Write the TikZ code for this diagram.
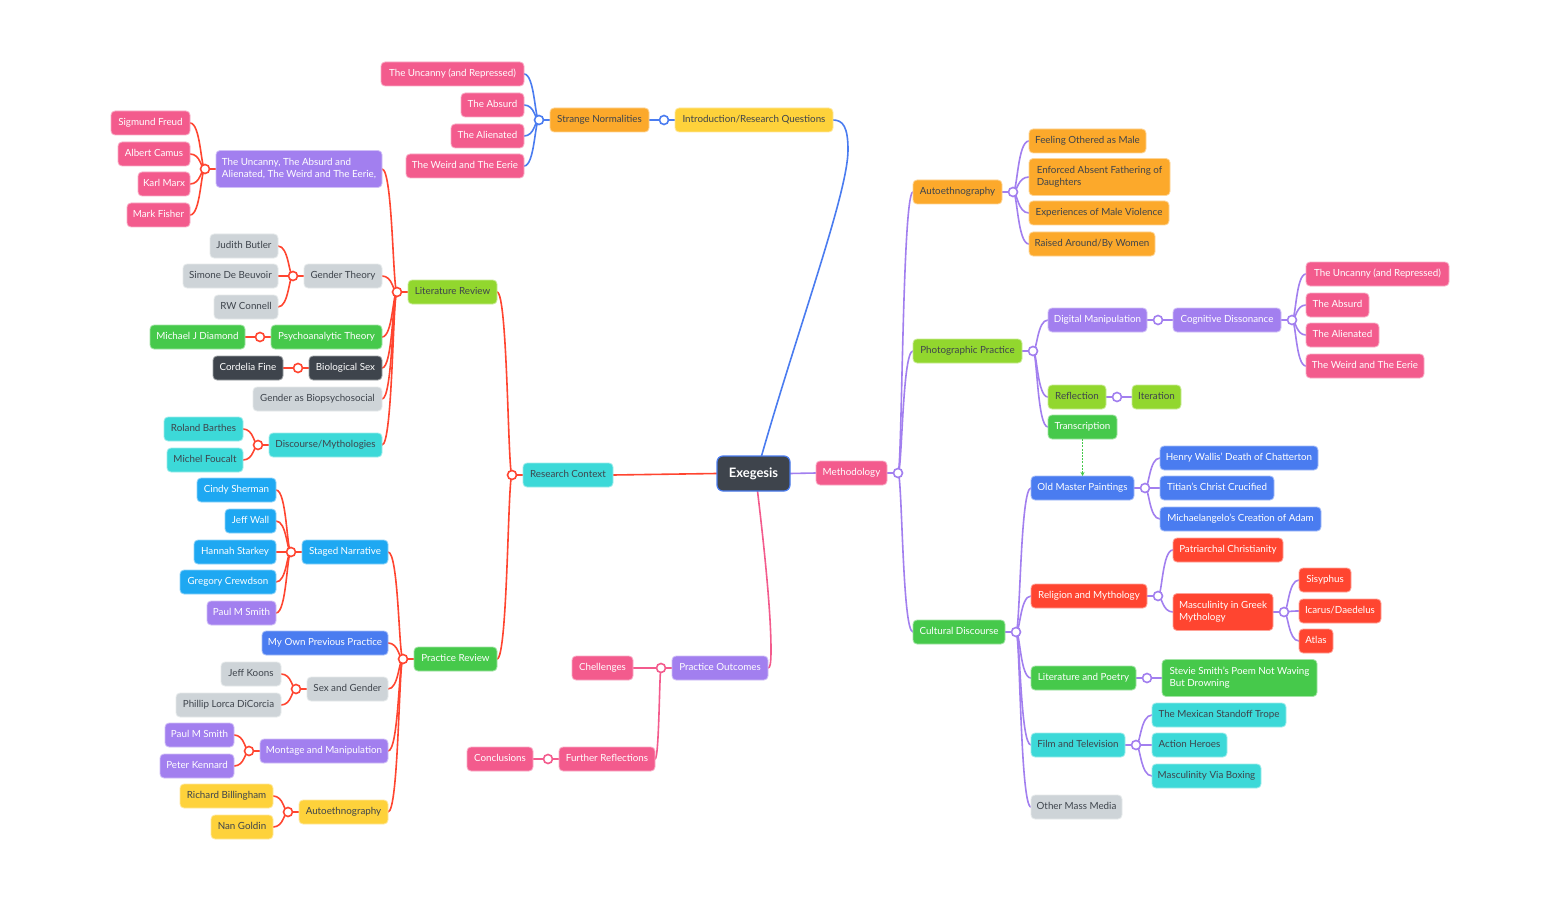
\documentclass[tikz,border=0pt]{standalone}
\usepackage{fontspec}
\setmainfont{Lato}
\usetikzlibrary{calc,arrows.meta}
\definecolor{cpink}{HTML}{F35B8D}
\definecolor{cpurple}{HTML}{A27FEF}
\definecolor{cblue}{HTML}{4A7CF0}
\definecolor{csky}{HTML}{1EA8F2}
\definecolor{cred}{HTML}{FF4530}
\definecolor{cgreen}{HTML}{46C94B}
\definecolor{clgreen}{HTML}{92D72E}
\definecolor{cyellow}{HTML}{FED23B}
\definecolor{corange}{HTML}{FCA92B}
\definecolor{ccyan}{HTML}{3CD9D8}
\definecolor{cgray}{HTML}{CED4D8}
\definecolor{cdark}{HTML}{3E444C}
\pgfdeclarelayer{back}
\pgfdeclarelayer{bg}
\pgfsetlayers{back,bg,main}
\newcommand\nb[6]{\node[box,#2,minimum width={#4-#3},anchor=west] (#1) at (#3,#5) {#6};}
\newcommand\hubL[3]{\node[hub=#2] (#1) at ($(#3.west)+(-11,0)$) {};}
\newcommand\hubR[3]{\node[hub=#2] (#1) at ($(#3.east)+(11,0)$) {};}
\newcommand\mlink[3]{\draw[link,#1] let \p1=(#2.center), \p2=(#3), \n1={\x1+0.28*(\x2-\x1)} in (\p1) .. controls (\n1,\y1) and (\n1,\y2) .. (\p2);}
\newcommand\slink[3]{\draw[link,#1] (#2) -- (#3.center);}
\begin{document}
\begin{tikzpicture}[x=1pt,y=-1pt,
  box/.style={rectangle, rounded corners=4pt, inner xsep=5pt, inner ysep=0pt, outer sep=0pt,
    minimum height=24pt, line width=0.8pt, font=\fontsize{9.8}{12}\selectfont, align=left,
    text height=7.2pt, text depth=2pt},
  two/.style={minimum height=37pt, text height={}, text depth={}},
  hub/.style={circle, draw=#1, fill=white, line width=1.6pt, minimum size=9pt, inner sep=0pt, outer sep=0pt},
  link/.style={line width=1.6pt, line cap=round},
  npk/.style={fill=cpink, draw=cpink!50!white, text=white},
  npu/.style={fill=cpurple, draw=cpurple!50!white, text=white},
  nbl/.style={fill=cblue, draw=cblue!50!white, text=white},
  nsk/.style={fill=csky, draw=csky!50!white, text=white},
  nrd/.style={fill=cred, draw=cred!50!white, text=white},
  ngn/.style={fill=cgreen, draw=cgreen!50!white, text=white},
  ndk/.style={fill=cdark, draw=cdark!50!white, text=white},
  nlg/.style={fill=clgreen, draw=clgreen!50!white, text=cdark},
  nye/.style={fill=cyellow, draw=cyellow!50!white, text=cdark},
  nor/.style={fill=corange, draw=corange!50!white, text=cdark},
  ncy/.style={fill=ccyan, draw=ccyan!50!white, text=cdark},
  ngy/.style={fill=cgray, draw=cgray!50!white, text=cdark}]
\begin{pgfonlayer}{back}
\fill[white] (0,-2) rectangle (1559,910);
\end{pgfonlayer}
\useasboundingbox (0,-2) rectangle (1559,910);
% root
\node[box, fill=cdark, draw=cblue, line width=1.2pt, text=white, font=\fontsize{13}{15}\selectfont\bfseries,
  minimum width=73pt, minimum height=35pt, rounded corners=6pt, text height={}, text depth={}] (ex) at (753.5,471.5) {Exegesis};
% left
\nb{rc}{ncy}{523}{613}{473}{Research Context}
\nb{lr}{nlg}{408}{497}{290}{Literature Review}
\nb{ua}{npu,two}{216}{382}{167}{The Uncanny, The Absurd and\\Alienated, The Weird and The Eerie,}
\nb{freud}{npk}{111}{190}{121}{Sigmund Freud}
\nb{camus}{npk}{118}{190}{152}{Albert Camus}
\nb{marx}{npk}{138}{190}{182}{Karl Marx}
\nb{fisher}{npk}{127}{190}{213}{Mark Fisher}
\nb{gt}{ngy}{304}{382}{274}{Gender Theory}
\nb{butler}{ngy}{210}{278}{244}{Judith Butler}
\nb{beauvoir}{ngy}{183}{278}{274}{Simone De Beuvoir}
\nb{connell}{ngy}{214}{278}{305}{RW Connell}
\nb{psy}{ngn}{271}{382}{335}{Psychoanalytic Theory}
\nb{diamond}{ngn}{150}{245}{335}{Michael J Diamond}
\nb{bs}{ndk}{309}{382}{366}{Biological Sex}
\nb{fine}{ndk}{213}{283}{366}{Cordelia Fine}
\nb{gb}{ngy}{253}{382}{397}{Gender as Biopsychosocial}
\nb{dm}{ncy}{269}{382}{443}{Discourse/Mythologies}
\nb{barthes}{ncy}{164}{243}{427}{Roland Barthes}
\nb{foucalt}{ncy}{167}{243}{458}{Michel Foucalt}
\nb{pr}{ngn}{414}{497}{657}{Practice Review}
\nb{sn}{nsk}{302}{388}{550}{Staged Narrative}
\nb{sherman}{nsk}{197}{276}{488}{Cindy Sherman}
\nb{wall}{nsk}{225}{276}{519}{Jeff Wall}
\nb{starkey}{nsk}{194}{276}{550}{Hannah Starkey}
\nb{crewdson}{nsk}{180}{276}{580}{Gregory Crewdson}
\nb{smitha}{npu}{207}{276}{611}{Paul M Smith}
\nb{opp}{nbl}{262}{388}{641}{My Own Previous Practice}
\nb{sg}{ngy}{307}{388}{687}{Sex and Gender}
\nb{koons}{ngy}{221}{281}{672}{Jeff Koons}
\nb{dicorcia}{ngy}{176}{281}{703}{Phillip Lorca DiCorcia}
\nb{mm}{npu}{260}{388}{749}{Montage and Manipulation}
\nb{smithb}{npu}{165}{234}{733}{Paul M Smith}
\nb{kennard}{npu}{160}{234}{764}{Peter Kennard}
\nb{aea}{nye}{299}{388}{810}{Autoethnography}
\nb{billingham}{nye}{180}{273}{794}{Richard Billingham}
\nb{goldin}{nye}{211}{273}{825}{Nan Goldin}
% top
\nb{intro}{nye}{675}{833}{118}{Introduction/Research Questions}
\nb{sno}{nor}{550}{649}{118}{Strange Normalities}
\nb{ua1}{npk}{381}{524}{72}{The Uncanny (and Repressed)}
\nb{ab1}{npk}{461}{524}{103}{The Absurd}
\nb{al1}{npk}{451}{524}{134}{The Alienated}
\nb{we1}{npk}{406}{524}{164}{The Weird and The Eerie}
% bottom
\nb{po}{npu}{672}{768}{666}{Practice Outcomes}
\nb{ch}{npk}{572}{633}{666}{Chellenges}
\nb{fr}{npk}{559}{655}{757}{Further Reflections}
\nb{concl}{npk}{467}{533}{757}{Conclusions}
% right
\nb{meth}{npk}{816}{887}{471}{Methodology}
\nb{aeb}{nor}{913}{1002}{190}{Autoethnography}
\nb{oth}{nor}{1029}{1146}{139}{Feeling Othered as Male}
\nb{eaf}{nor,two}{1029}{1170}{175}{Enforced Absent Fathering of\\Daughters}
\nb{emv}{nor}{1029}{1169}{211}{Experiences of Male Violence}
\nb{raw}{nor}{1029}{1155}{242}{Raised Around/By Women}
\nb{pp}{nlg}{913}{1022}{349}{Photographic Practice}
\nb{dmn}{npu}{1048}{1147}{318}{Digital Manipulation}
\nb{cd}{npu}{1173}{1281}{318}{Cognitive Dissonance}
\nb{ua2}{npk}{1306}{1449}{272}{The Uncanny (and Repressed)}
\nb{ab2}{npk}{1306}{1369}{303}{The Absurd}
\nb{al2}{npk}{1306}{1379}{333}{The Alienated}
\nb{we2}{npk}{1306}{1424}{364}{The Weird and The Eerie}
\nb{refl}{nlg}{1048}{1106}{395}{Reflection}
\nb{iter}{nlg}{1132}{1181}{395}{Iteration}
\nb{trans}{ngn}{1048}{1117}{425}{Transcription}
\nb{cdis}{ngn}{913}{1005}{630}{Cultural Discourse}
\nb{omp}{nbl}{1031}{1134}{486}{Old Master Paintings}
\nb{wallis}{nbl}{1160}{1318}{456}{Henry Wallis' Death of Chatterton}
\nb{titian}{nbl}{1160}{1274}{486}{Titian's Christ Crucified}
\nb{creation}{nbl}{1160}{1321}{517}{Michaelangelo's Creation of Adam}
\nb{rm}{nrd}{1031}{1147}{594}{Religion and Mythology}
\nb{patc}{nrd}{1173}{1283}{548}{Patriarchal Christianity}
\nb{mgm}{nrd,two}{1173}{1273}{610}{Masculinity in Greek\\Mythology}
\nb{sis}{nrd}{1299}{1351}{578}{Sisyphus}
\nb{ica}{nrd}{1299}{1381}{609}{Icarus/Daedelus}
\nb{atl}{nrd}{1299}{1333}{639}{Atlas}
\nb{lp}{ngn}{1031}{1136}{676}{Literature and Poetry}
\nb{ss}{ngn,two}{1162}{1317}{676}{Stevie Smith's Poem Not Waving\\But Drowning}
\nb{ft}{ncy}{1031}{1125}{743}{Film and Television}
\nb{mex}{ncy}{1152}{1286}{713}{The Mexican Standoff Trope}
\nb{ah}{ncy}{1152}{1227}{743}{Action Heroes}
\nb{boxing}{ncy}{1152}{1261}{774}{Masculinity Via Boxing}
\nb{omm}{ngy}{1031}{1122}{805}{Other Mass Media}
% hubs
\hubL{rcC}{cred}{rc}
\hubL{lrC}{cred}{lr}
\hubL{uaC}{cred}{ua}
\hubL{gtC}{cred}{gt}
\hubL{psyC}{cred}{psy}
\hubL{bsC}{cred}{bs}
\hubL{dmC}{cred}{dm}
\hubL{prC}{cred}{pr}
\hubL{snC}{cred}{sn}
\hubL{sgC}{cred}{sg}
\hubL{mmC}{cred}{mm}
\hubL{aeaC}{cred}{aea}
\hubL{introC}{cblue}{intro}
\hubL{snoC}{cblue}{sno}
\hubL{poC}{cpink}{po}
\hubL{frC}{cpink}{fr}
\hubR{methC}{cpurple}{meth}
\hubR{aebC}{cpurple}{aeb}
\hubR{ppC}{cpurple}{pp}
\hubR{dmnC}{cpurple}{dmn}
\hubR{cdC}{cpurple}{cd}
\hubR{reflC}{cpurple}{refl}
\hubR{cdisC}{cpurple}{cdis}
\hubR{ompC}{cpurple}{omp}
\hubR{rmC}{cpurple}{rm}
\hubR{mgmC}{cpurple}{mgm}
\hubR{lpC}{cpurple}{lp}
\hubR{ftC}{cpurple}{ft}
\begin{pgfonlayer}{bg}
% red
\draw[link,cred] (ex.west) -- (rc.east);
\slink{cred}{rc.west}{rcC}
\mlink{cred}{rcC}{lr.east}\mlink{cred}{rcC}{pr.east}
\slink{cred}{lr.west}{lrC}
\mlink{cred}{lrC}{ua.east}\mlink{cred}{lrC}{gt.east}\mlink{cred}{lrC}{psy.east}
\mlink{cred}{lrC}{bs.east}\mlink{cred}{lrC}{gb.east}\mlink{cred}{lrC}{dm.east}
\slink{cred}{ua.west}{uaC}
\mlink{cred}{uaC}{freud.east}\mlink{cred}{uaC}{camus.east}\mlink{cred}{uaC}{marx.east}\mlink{cred}{uaC}{fisher.east}
\slink{cred}{gt.west}{gtC}
\mlink{cred}{gtC}{butler.east}\mlink{cred}{gtC}{beauvoir.east}\mlink{cred}{gtC}{connell.east}
\slink{cred}{psy.west}{psyC}\mlink{cred}{psyC}{diamond.east}
\slink{cred}{bs.west}{bsC}\mlink{cred}{bsC}{fine.east}
\slink{cred}{dm.west}{dmC}\mlink{cred}{dmC}{barthes.east}\mlink{cred}{dmC}{foucalt.east}
\slink{cred}{pr.west}{prC}
\mlink{cred}{prC}{sn.east}\mlink{cred}{prC}{opp.east}\mlink{cred}{prC}{sg.east}\mlink{cred}{prC}{mm.east}\mlink{cred}{prC}{aea.east}
\slink{cred}{sn.west}{snC}
\mlink{cred}{snC}{sherman.east}\mlink{cred}{snC}{wall.east}\mlink{cred}{snC}{starkey.east}\mlink{cred}{snC}{crewdson.east}\mlink{cred}{snC}{smitha.east}
\slink{cred}{sg.west}{sgC}\mlink{cred}{sgC}{koons.east}\mlink{cred}{sgC}{dicorcia.east}
\slink{cred}{mm.west}{mmC}\mlink{cred}{mmC}{smithb.east}\mlink{cred}{mmC}{kennard.east}
\slink{cred}{aea.west}{aeaC}\mlink{cred}{aeaC}{billingham.east}\mlink{cred}{aeaC}{goldin.east}
% blue
\draw[link,cblue] ($(ex.north)+(8,0)$) .. controls (800,320) and (848,190) .. (848,148) .. controls (848,125) and (843,118) .. (intro.east);
\slink{cblue}{intro.west}{introC}\mlink{cblue}{introC}{sno.east}
\slink{cblue}{sno.west}{snoC}
\mlink{cblue}{snoC}{ua1.east}\mlink{cblue}{snoC}{ab1.east}\mlink{cblue}{snoC}{al1.east}\mlink{cblue}{snoC}{we1.east}
% pink
\draw[link,cpink] ($(ex.south)+(4,0)$) .. controls (766,560) and (771,615) .. (771,648) .. controls (771,662) and (770,666) .. (po.east);
\slink{cpink}{po.west}{poC}\mlink{cpink}{poC}{ch.east}\mlink{cpink}{poC}{fr.east}
\slink{cpink}{fr.west}{frC}\mlink{cpink}{frC}{concl.east}
% purple
\draw[link,cpurple] (ex.east) -- (meth.west);
\slink{cpurple}{meth.east}{methC}
\mlink{cpurple}{methC}{aeb.west}\mlink{cpurple}{methC}{pp.west}\mlink{cpurple}{methC}{cdis.west}
\slink{cpurple}{aeb.east}{aebC}
\mlink{cpurple}{aebC}{oth.west}\mlink{cpurple}{aebC}{eaf.west}\mlink{cpurple}{aebC}{emv.west}\mlink{cpurple}{aebC}{raw.west}
\slink{cpurple}{pp.east}{ppC}
\mlink{cpurple}{ppC}{dmn.west}\mlink{cpurple}{ppC}{refl.west}\mlink{cpurple}{ppC}{trans.west}
\slink{cpurple}{dmn.east}{dmnC}\mlink{cpurple}{dmnC}{cd.west}
\slink{cpurple}{cd.east}{cdC}
\mlink{cpurple}{cdC}{ua2.west}\mlink{cpurple}{cdC}{ab2.west}\mlink{cpurple}{cdC}{al2.west}\mlink{cpurple}{cdC}{we2.west}
\slink{cpurple}{refl.east}{reflC}\mlink{cpurple}{reflC}{iter.west}
\slink{cpurple}{cdis.east}{cdisC}
\mlink{cpurple}{cdisC}{omp.west}\mlink{cpurple}{cdisC}{rm.west}\mlink{cpurple}{cdisC}{lp.west}\mlink{cpurple}{cdisC}{ft.west}\mlink{cpurple}{cdisC}{omm.west}
\slink{cpurple}{omp.east}{ompC}
\mlink{cpurple}{ompC}{wallis.west}\mlink{cpurple}{ompC}{titian.west}\mlink{cpurple}{ompC}{creation.west}
\slink{cpurple}{rm.east}{rmC}\mlink{cpurple}{rmC}{patc.west}\mlink{cpurple}{rmC}{mgm.west}
\slink{cpurple}{mgm.east}{mgmC}\mlink{cpurple}{mgmC}{sis.west}\mlink{cpurple}{mgmC}{ica.west}\mlink{cpurple}{mgmC}{atl.west}
\slink{cpurple}{lp.east}{lpC}\mlink{cpurple}{lpC}{ss.west}
\slink{cpurple}{ft.east}{ftC}\mlink{cpurple}{ftC}{mex.west}\mlink{cpurple}{ftC}{ah.west}\mlink{cpurple}{ftC}{boxing.west}
\end{pgfonlayer}
\draw[cgreen, line width=0.5pt, dash pattern=on 2pt off 1.2pt, -{Stealth[length=4pt,width=4pt]}] (trans.south) -- (omp.north);
\end{tikzpicture}
\end{document}
